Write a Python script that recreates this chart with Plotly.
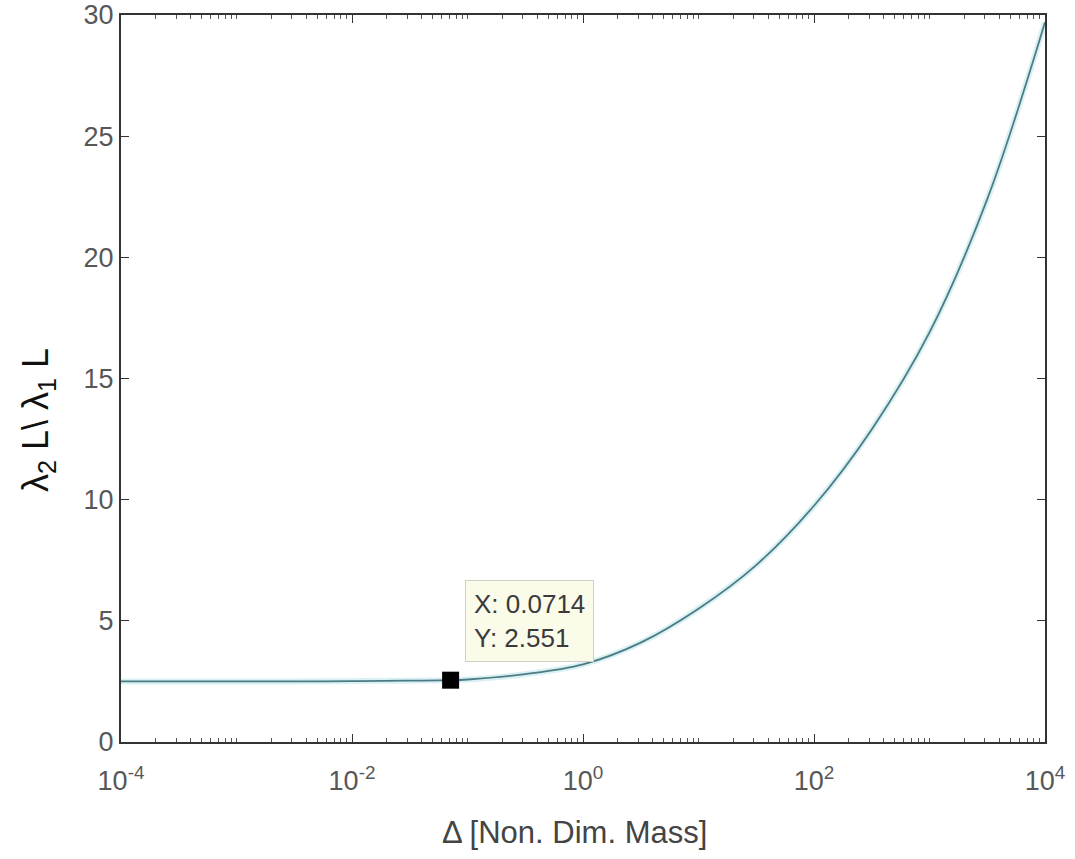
import math
import plotly.graph_objects as go

# Data
mass = [1e-4, 3e-4, 1e-3, 3e-3, 1e-2, 3e-2, 0.0714, 0.1, 0.316, 1, 3.16, 10, 31.6,
        100, 316, 1000, 3162, 10000]
ratio = [2.50, 2.50, 2.50, 2.50, 2.51, 2.53, 2.551, 2.58, 2.8, 3.2, 4.1, 5.5, 7.3,
         9.75, 12.9, 16.9, 22.4, 29.7]

tip_x = [0.0714]
tip_y = [2.551]

x_tickvals = [1e-4, 1e-2, 1, 1e2, 1e4]
x_ticktext = ["10<sup>-4</sup>", "10<sup>-2</sup>", "10<sup>0</sup>", "10<sup>2</sup>", "10<sup>4</sup>"]
y_tickvals = [0, 5, 10, 15, 20, 25, 30]

minor_vals = [m * 10 ** k for k in range(-4, 4) for m in range(1, 10)
              if not (m == 1 and k % 2 == 0)]

fig = go.Figure()
fig.add_trace(go.Scatter(x=mass, y=ratio, mode="lines", line=dict(color="#d9f1f5", width=6, shape="spline"),
                         hoverinfo="skip", showlegend=False))
fig.add_trace(go.Scatter(x=mass, y=ratio, mode="lines", line=dict(color="#4d7b82", width=1.8, shape="spline"),
                         showlegend=False))
fig.add_trace(go.Scatter(x=tip_x, y=tip_y, mode="markers",
                         marker=dict(symbol="square", size=17, color="black"), showlegend=False))

fig.add_annotation(x=math.log10(tip_x[0]), y=tip_y[0], xref="x", yref="y",
                   text=f"X: {tip_x[0]}<br>Y: {tip_y[0]}", showarrow=False,
                   xanchor="left", yanchor="bottom", xshift=14, yshift=18, align="left",
                   font=dict(family="Liberation Sans, Arial", size=26, color="#3a3a3a"),
                   bgcolor="#fbfbea", bordercolor="#cfcfc6", borderwidth=1, borderpad=8)

fig.add_annotation(x=0.491, y=-0.124, xref="paper", yref="paper", showarrow=False,
                   text="Δ [Non. Dim. Mass]", xanchor="center", yanchor="middle",
                   font=dict(family="Liberation Sans, Arial", size=31, color="#444"))

fig.add_annotation(x=-0.0898, y=0.443, xref="paper", yref="paper", showarrow=False,
                   text="λ<sub>2</sub> L\\ λ<sub>1</sub> L", textangle=-90,
                   xanchor="center", yanchor="middle",
                   font=dict(family="Liberation Sans, Arial", size=36, color="#111"))

axis_font = dict(family="Liberation Sans, Arial", size=27, color="#575757")

fig.update_layout(
    width=1075, height=859,
    margin=dict(l=121, r=30, t=15, b=117, autoexpand=False),
    paper_bgcolor="white", plot_bgcolor="white",
    xaxis=dict(type="log", range=[-4, 4], tickvals=x_tickvals, ticktext=x_ticktext,
               ticks="inside", ticklen=8, tickwidth=1.2, tickcolor="#333", ticklabelstandoff=14,
               showline=True, linecolor="#333", linewidth=2, mirror="ticks", automargin=False,
               showgrid=False, zeroline=False, tickfont=axis_font,
               minor=dict(tickvals=minor_vals, ticks="inside", ticklen=4, tickcolor="#555", showgrid=False)),
    yaxis=dict(range=[0, 30], tickvals=y_tickvals,
               ticks="inside", ticklen=8, tickwidth=1.2, tickcolor="#333",
               showline=True, linecolor="#333", linewidth=2, mirror="ticks", automargin=False,
               showgrid=False, zeroline=False, tickfont=axis_font),
)

fig.write_html("out.html")
